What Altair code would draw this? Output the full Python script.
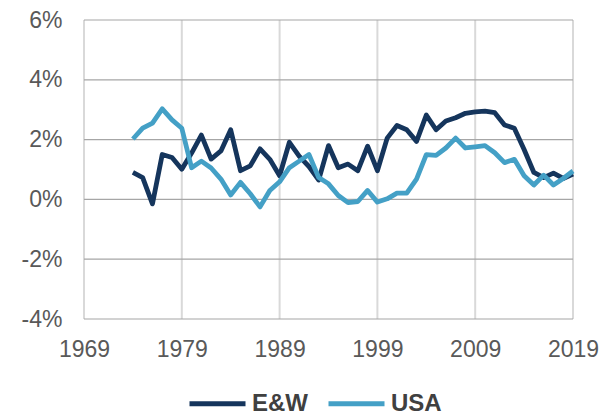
import altair as alt
import pandas as pd

years = list(range(1974, 2020))
ew = [0.90, 0.73, -0.15, 1.50, 1.40, 1.01, 1.55, 2.15, 1.35, 1.62,
      2.33, 0.96, 1.12, 1.69, 1.34, 0.79, 1.91, 1.45, 1.10, 0.65,
      1.80, 1.06, 1.18, 0.96, 1.78, 0.96, 2.05, 2.47, 2.33, 1.94,
      2.82, 2.33, 2.62, 2.73, 2.88, 2.93, 2.95, 2.90, 2.49, 2.38,
      1.67, 0.90, 0.73, 0.88, 0.70, 0.85]
usa = [2.02, 2.38, 2.55, 3.03, 2.66, 2.38, 1.06, 1.28, 1.05, 0.68,
       0.15, 0.57, 0.19, -0.25, 0.30, 0.59, 1.06, 1.28, 1.50, 0.73,
       0.52, 0.13, -0.11, -0.07, 0.30, -0.09, 0.02, 0.21, 0.21, 0.68,
       1.50, 1.47, 1.72, 2.05, 1.72, 1.76, 1.80, 1.56, 1.23, 1.34,
       0.79, 0.48, 0.81, 0.48, 0.70, 0.95]
series = ["E&W", "USA"]
colors = ["#15355C", "#44A0C6"]
x_ticks = [1969, 1979, 1989, 1999, 2009, 2019]
y_ticks = [-4, -2, 0, 2, 4, 6]

df = pd.concat([
    pd.DataFrame({"year": years, "value": ew, "series": series[0]}),
    pd.DataFrame({"year": years, "value": usa, "series": series[1]}),
])

label_color = "#595959"

base = alt.Chart(df)

vgrid = alt.Chart(pd.DataFrame({"x": x_ticks})).mark_rule(
    color="#d9d9d9", strokeWidth=2
).encode(x=alt.X("x:Q", scale=alt.Scale(domain=[1969, 2019])))

hgrid = alt.Chart(pd.DataFrame({"y": y_ticks})).mark_rule(
    color="#a6a6a6", strokeWidth=1.2
).encode(y=alt.Y("y:Q", scale=alt.Scale(domain=[-4, 6])))

lines = base.mark_line(strokeWidth=4.8, strokeJoin="round").encode(
    x=alt.X("year:Q",
            scale=alt.Scale(domain=[1969, 2019], nice=False, zero=False),
            axis=alt.Axis(values=x_ticks, format="d", title=None, grid=False,
                          domain=False, ticks=False, labelFontSize=23,
                          labelColor=label_color, labelPadding=19,
                          labelFlush=False, labelOverlap=False,
                          labelFont="Liberation Sans")),
    y=alt.Y("value:Q",
            scale=alt.Scale(domain=[-4, 6], nice=False),
            axis=alt.Axis(values=y_ticks, labelExpr="datum.value + '%'",
                          title=None, grid=False, domain=False, ticks=False,
                          labelFontSize=23, labelColor=label_color,
                          labelPadding=22, labelFlush=False,
                          labelFont="Liberation Sans")),
    color=alt.Color("series:N",
                    scale=alt.Scale(domain=series, range=colors),
                    legend=alt.Legend(
                        title=None, orient="none", legendX=103, legendY=353,
                        direction="horizontal", symbolType="stroke",
                        symbolSize=3136, symbolStrokeWidth=5,
                        labelFontSize=24, labelFontWeight="bold",
                        labelColor="#404040", labelFont="Liberation Sans",
                        labelOffset=4, columnPadding=10)),
)

chart = alt.layer(vgrid, hgrid, lines).properties(
    width=489, height=299,
    autosize=alt.AutoSizeParams(type="none"),
    padding={"left": 76, "top": 12, "right": 30, "bottom": 98},
).configure_view(stroke=None)

chart.save("out.html", embed_options={"renderer": "svg", "actions": False})
